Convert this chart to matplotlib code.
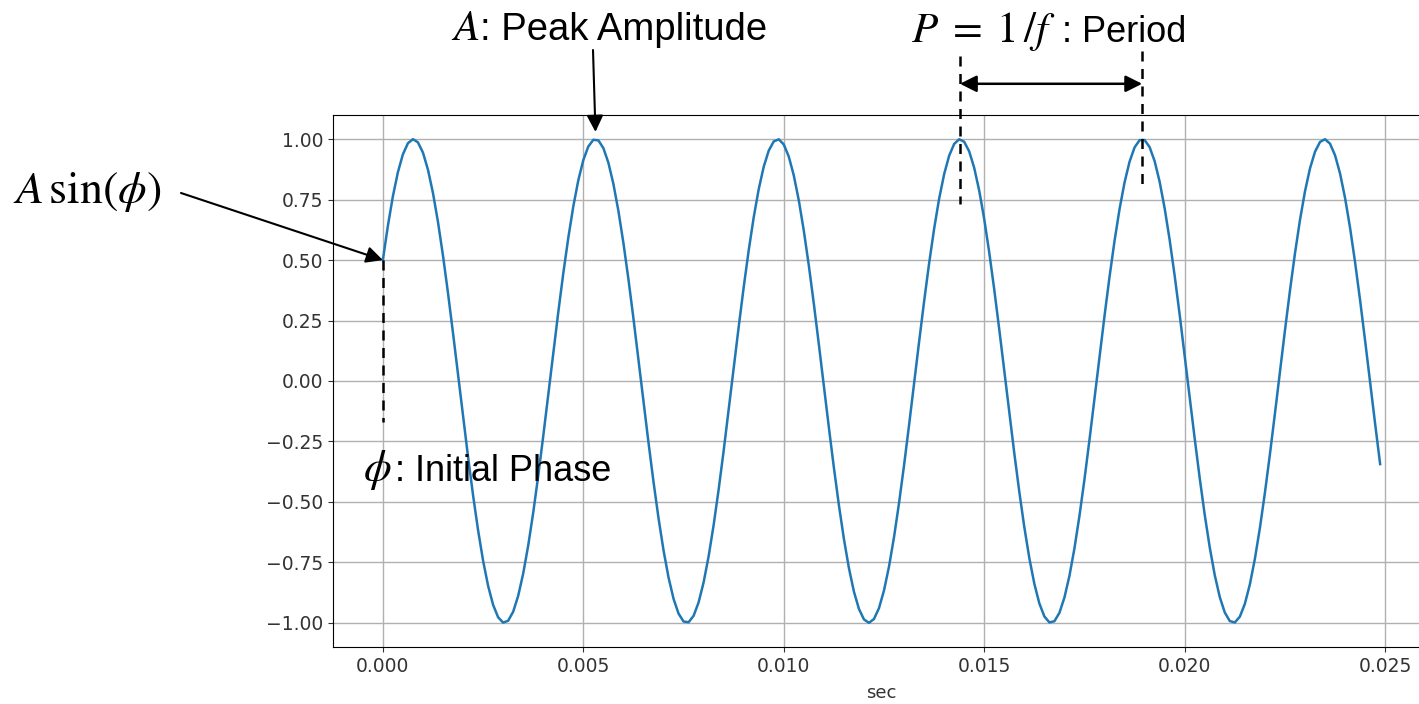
import numpy as np
import matplotlib
matplotlib.use("Agg")
import matplotlib.pyplot as plt

# --- data (parameters) ---
amplitude = 1.0          # A
frequency = 220.0        # f in Hz (period ~0.00455 s)
phase = np.pi / 6        # phi, A*sin(phi) = 0.5
sample_rate = 8000       # samples per second
n_samples = 200          # last sample at ~0.0249 s

x_ticks = [0.000, 0.005, 0.010, 0.015, 0.020, 0.025]
y_ticks = [1.00, 0.75, 0.50, 0.25, 0.00, -0.25, -0.50, -0.75, -1.00]

t = np.arange(n_samples) / sample_rate
signal = amplitude * np.sin(2 * np.pi * frequency * t + phase)

W, H = 1419, 704
plt.rcParams['mathtext.fontset'] = 'stix'
fig = plt.figure(figsize=(W / 100, H / 100), dpi=100)

def fx(px):
    return px / W

def fy(py):
    return 1 - py / H

ax = fig.add_axes([fx(333), fy(647), (1430 - 333) / W, (647 - 115) / H])
ax.plot(t, signal, color='#1f77b4', lw=1.8)
ax.margins(x=0.05, y=0.05)
ax.set_xlim(ax.get_xlim())
ax.set_ylim(ax.get_ylim())
ax.grid(True, color='#b0b0b0', lw=1.0)
ax.set_xticks(x_ticks)
ax.set_yticks(y_ticks)
ax.set_xticklabels([f"{v:.3f}" for v in x_ticks])
ax.set_yticklabels([f"{v:.2f}".replace('-', '\u2212') for v in y_ticks])
ax.tick_params(labelsize=13.5, colors='#333333', labelcolor='#333333')
ax.set_xlabel('sec', fontsize=13, labelpad=6, color='#333333')

period = 1 / frequency
t_peak0 = (np.pi / 2 - phase) / (2 * np.pi * frequency)

txt_font = 'Liberation Sans'
dash = (0, (4, 3))

# A sin(phi) annotation
fig.text(fx(13), fy(203), r'$A\,\sin(\phi)$', fontsize=33, va='baseline', ha='left')
ax.annotate('', xy=(0, amplitude * np.sin(phase)), xycoords='data',
            xytext=(fx(181), fy(193)), textcoords='figure fraction',
            arrowprops=dict(arrowstyle='-|>', color='black', lw=1.5,
                            mutation_scale=25, shrinkA=0, shrinkB=0),
            annotation_clip=False)
# dashed line for phase
ax.plot([0, 0], [amplitude * np.sin(phase), -0.17], color='black', lw=1.8,
        ls=dash, clip_on=False, scalex=False, scaley=False)
fig.text(fx(363), fy(481), r'$\phi$', fontsize=32, va='baseline', ha='left')
fig.text(fx(395), fy(481), ': Initial Phase', fontsize=26, va='baseline',
         ha='left', family=txt_font)

# Peak amplitude
fig.text(fx(451), fy(40), r'$A$', fontsize=31, va='baseline', ha='left')
fig.text(fx(480), fy(40), ': Peak Amplitude', fontsize=27.5, va='baseline',
         ha='left', family=txt_font)
t_peak1 = t_peak0 + period
ax.annotate('', xy=(t_peak1, 1.03), xycoords='data',
            xytext=(fx(593), fy(50)), textcoords='figure fraction',
            arrowprops=dict(arrowstyle='-|>', color='black', lw=1.5,
                            mutation_scale=25, shrinkA=0, shrinkB=0),
            annotation_clip=False)

# Period
fig.text(fx(911), fy(42), r'$P\;=\;1\,/f$', fontsize=31, va='baseline', ha='left')
fig.text(fx(1062), fy(42), ': Period', fontsize=26, va='baseline',
         ha='left', family=txt_font)
t_p3 = t_peak0 + 3 * period
t_p4 = t_peak0 + 4 * period
ax.plot([t_p3, t_p3], [1.345, 0.73], color='black', lw=1.8, ls=dash,
        clip_on=False, scalex=False, scaley=False)
ax.plot([t_p4, t_p4], [1.365, 0.785], color='black', lw=1.8, ls=dash,
        clip_on=False, scalex=False, scaley=False)
ax.annotate('', xy=(t_p4, 1.229), xytext=(t_p3, 1.229), xycoords='data',
            arrowprops=dict(arrowstyle='<|-|>', color='black', lw=1.8,
                            mutation_scale=25, shrinkA=0, shrinkB=0),
            annotation_clip=False)

fig.savefig('out.png', dpi=100)
